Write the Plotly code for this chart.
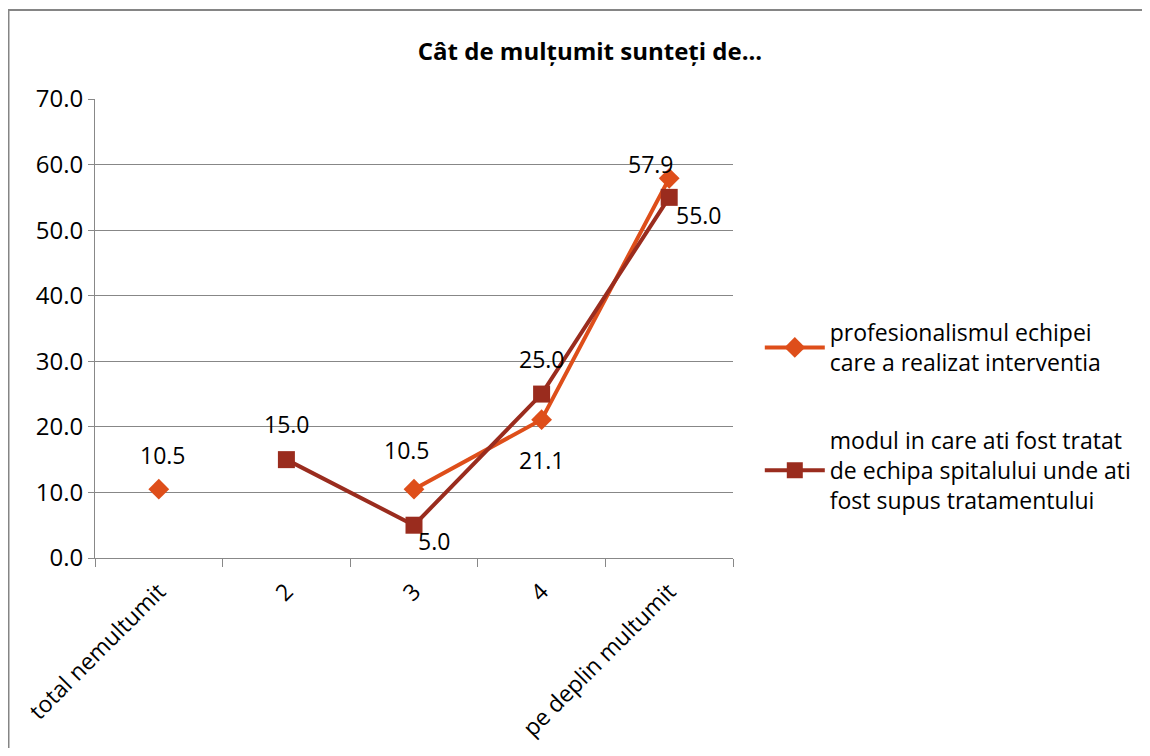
import plotly.graph_objects as go

categories = ["total nemultumit", "2", "3", "4", "pe deplin multumit"]
prof_values = [10.5, None, 10.5, 21.1, 57.9]
modul_values = [None, 15.0, 5.0, 25.0, 55.0]
y_ticks = [0, 10, 20, 30, 40, 50, 60, 70]

prof_name = "profesionalismul echipei<br>care a realizat interventia"
modul_name = "modul in care ati fost tratat<br>de echipa spitalului unde ati<br>fost supus tratamentului"

ORANGE = "#DE4E1A"
DARKRED = "#9A2C1E"
FONT = "Open Sans, Liberation Sans, sans-serif"

# label offsets (px) relative to each point: (dx, dy up)
prof_label_offsets = [(4, 34), None, (-7, 39), (0, -40), (-18, 14)]
modul_label_offsets = [None, (1, 36), (20, -16), (0, 35), (30, -18)]

# figure is placed by the browser at an 8px body margin
W, H = 1134, 740
L, R, T, B = 87, 1134 - 725, 91, 740 - 550
PW, PH = W - L - R, H - T - B

fig = go.Figure()
fig.add_trace(go.Scatter(
    x=categories, y=prof_values, name=prof_name, legendgroup="a",
    mode="lines+markers",
    line=dict(color=ORANGE, width=4), connectgaps=False,
    marker=dict(symbol="diamond", size=16, color=ORANGE),
))
fig.add_trace(go.Scatter(
    x=categories, y=modul_values, name=modul_name, legendgroup="b",
    mode="lines+markers",
    line=dict(color=DARKRED, width=4), connectgaps=False,
    marker=dict(symbol="square", size=17, color=DARKRED),
))

annotations = []
for vals, offs in ((prof_values, prof_label_offsets), (modul_values, modul_label_offsets)):
    for i, (v, o) in enumerate(zip(vals, offs)):
        if v is None:
            continue
        annotations.append(dict(
            x=i, y=v, xref="x", yref="y", text=f"{v:.1f}", showarrow=False,
            xshift=o[0], yshift=o[1], xanchor="center", yanchor="middle",
            font=dict(size=23, color="#000000", family=FONT),
        ))

fig.update_layout(
    width=W, height=H,
    margin=dict(l=L, r=R, t=T, b=B, autoexpand=False),
    paper_bgcolor="white", plot_bgcolor="white",
    font=dict(family=FONT, size=23, color="#000000"),
    title=dict(text="<b>Cât de mulțumit sunteți de...</b>", x=582 / W, xanchor="center",
               y=1 - 44 / H, yanchor="middle", font=dict(size=24, family=FONT)),
    showlegend=True,
    legend=dict(x=1.042, xanchor="left", y=(550 - 303) / PH, yanchor="top",
                font=dict(size=23, family=FONT), tracegroupgap=45,
                itemwidth=60, bgcolor="rgba(0,0,0,0)"),
    xaxis=dict(type="category", range=[-0.5, 4.5], tickangle=-45, showgrid=False,
               showline=True, linecolor="#888888", linewidth=1, ticks="outside",
               tickson="boundaries", tickcolor="#888888", ticklen=8,
               ticklabelstandoff=10, tickfont=dict(size=23)),
    yaxis=dict(range=[0, 70], tickvals=y_ticks, tickformat=".1f", showgrid=True,
               gridcolor="#878787", gridwidth=1, showline=True, linecolor="#888888",
               ticks="outside", tickcolor="#888888", ticklen=6, zeroline=False,
               tickfont=dict(size=24)),
    annotations=annotations,
    shapes=[dict(type="rect", xref="paper", yref="paper",
                 x0=(0.5 - L) / PW, x1=(1300 - L) / PW,
                 y0=(550 - 900) / PH, y1=(550 - 2) / PH,
                 line=dict(color="#858585", width=2), fillcolor="rgba(0,0,0,0)", layer="below")],
)

fig.write_html("out.html")
